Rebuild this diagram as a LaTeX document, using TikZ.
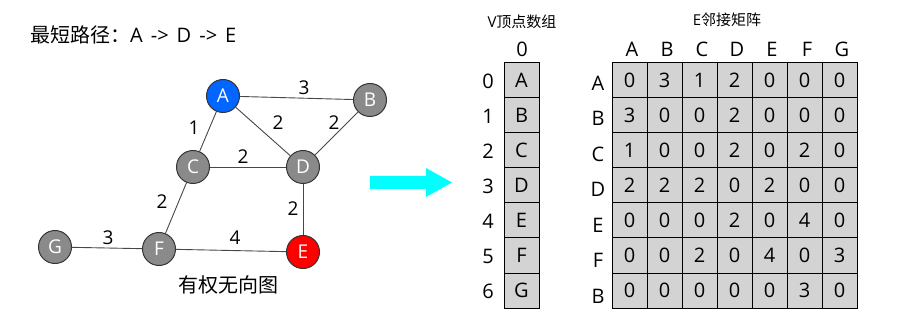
\documentclass[tikz,border=0pt]{standalone}
\usepackage{fontspec}
\setmainfont{Open Sans}
\newfontfamily\cjk{Noto Sans CJK SC}
\definecolor{nodeGray}{RGB}{138,138,138}
\definecolor{cellGray}{RGB}{211,211,211}
\definecolor{startBlue}{RGB}{0,102,255}
\definecolor{endRed}{RGB}{255,0,0}
\definecolor{arrowCyan}{RGB}{0,255,255}
\begin{document}
\begin{tikzpicture}[x=1pt, y=-1pt]
	
	% Định dạng các nét vẽ
	\tikzset{
		vertex/.style={circle, draw=black!80, line width=1pt, fill=nodeGray, minimum size=33pt, inner sep=0pt, text=white, font=\fontsize{19}{19}\selectfont},
		edgeLine/.style={line width=0.9pt, black!72},
		weight/.style={inner sep=0pt, text=black, font=\fontsize{19}{19}\selectfont},
		cell/.style={draw=black, fill=cellGray, line width=1pt, minimum size=35pt, inner sep=0pt, font=\fontsize{20}{20}\selectfont},
		axisLabel/.style={inner sep=0pt, font=\fontsize{20}{20}\selectfont},
		caption/.style={inner sep=0pt, font=\fontsize{15}{15}\selectfont}
	}
	\useasboundingbox (0,0) rectangle (920,320);
	
	% Tiêu đề đường đi ngắn nhất
	\node[anchor=west, inner sep=0pt, font=\fontsize{20}{20}\selectfont] (title) at (30,35) {{\cjk 最短路径：}{\spaceskip=8pt A -> D -> E}};
	
	% Các đỉnh của đồ thị
	\node[vertex, fill=startBlue] (A) at (223,96) {A};
	\node[vertex] (B) at (370,100) {B};
	\node[vertex] (C) at (193,167) {C};
	\node[vertex] (D) at (303,167) {D};
	\node[vertex, fill=endRed] (E) at (303,252) {E};
	\node[vertex] (F) at (159,249) {F};
	\node[vertex] (G) at (55,247) {G};
	
	% Các cạnh có trọng số
	\draw[edgeLine] (A) -- node[weight, xshift=7.5pt, yshift=10pt] {3} (B);
	\draw[edgeLine] (A) -- node[weight, xshift=-14pt, yshift=3.5pt] {1} (C);
	\draw[edgeLine] (A) -- node[weight, xshift=15pt, yshift=8.5pt] {2} (D);
	\draw[edgeLine] (B) -- node[weight, xshift=-2.5pt, yshift=10.5pt] {2} (D);
	\draw[edgeLine] (C) -- node[weight, xshift=-5pt, yshift=10pt] {2} (D);
	\draw[edgeLine] (C) -- node[weight, xshift=-14pt, yshift=6pt] {2} (F);
	\draw[edgeLine] (D) -- node[weight, xshift=-10pt, yshift=0.5pt] {2} (E);
	\draw[edgeLine] (G) -- node[weight, xshift=1pt, yshift=10pt] {3} (F);
	\draw[edgeLine] (F) -- node[weight, xshift=4pt, yshift=12.5pt] {4} (E);
	
	\node[inner sep=0pt, font=\cjk\fontsize{20}{20}\selectfont] (graphName) at (228,285) {有权无向图};
	
	% Mũi tên chuyển đổi
	\fill[arrowCyan] (370,176) -- (426,176) -- (426,168) -- (452,182.5) -- (426,197) -- (426,189) -- (370,189) -- cycle;
	
	% Mảng đỉnh V
	\node[caption] (vTitle) at (522,22) {V{\cjk 顶点数组}};
	\node[axisLabel] (vHead) at (522,49) {0};
	\foreach \name [count=\i from 0] in {A,B,C,D,E,F,G} {
		\node[cell] (v\i) at (521.5, 80.5+35*\i) {\name};
		\node[axisLabel] (vIdx\i) at (488, 81+35*\i) {\i};
	}
	
	% Ma trận kề E
	\node[caption] (eTitle) at (727,20) {E{\cjk 邻接矩阵}};
	\foreach \name [count=\c from 0] in {A,B,C,D,E,F,G} {
		\node[axisLabel] (colHead\c) at (632+35*\c, 49) {\name};
	}
	\foreach \name [count=\r from 0] in {A,B,C,D,E,F,B} {
		\node[axisLabel] (rowHead\r) at (598, 83+35.5*\r) {\name};
	}
	\foreach \row [count=\r from 0] in {{0,3,1,2,0,0,0},{3,0,0,2,0,0,0},{1,0,0,2,0,2,0},{2,2,2,0,2,0,0},{0,0,0,2,0,4,0},{0,0,2,0,4,0,3},{0,0,0,0,0,3,0}} {
		\foreach \val [count=\c from 0] in \row {
			\node[cell] (m\r-\c) at (629.5+35*\c, 80.5+35*\r) {\val};
		}
	}
	
\end{tikzpicture}
\end{document}
